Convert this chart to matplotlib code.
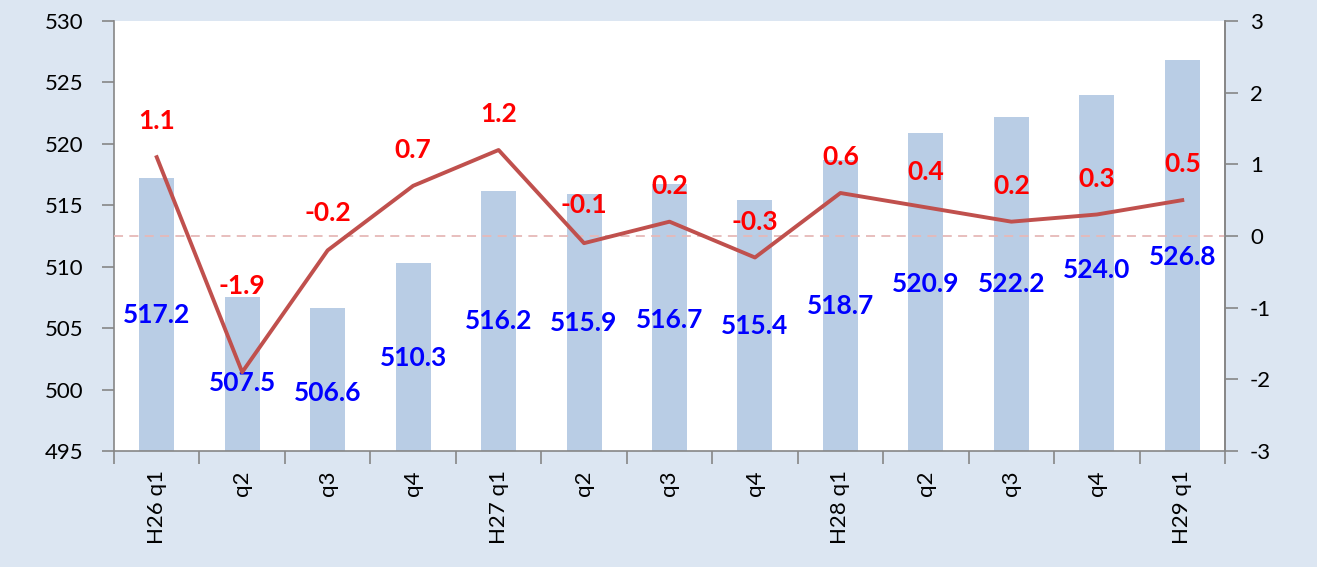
import matplotlib
matplotlib.use("Agg")
import matplotlib.pyplot as plt
import numpy as np

categories = ["H26 q1", "q2", "q3", "q4", "H27 q1", "q2", "q3", "q4",
              "H28 q1", "q2", "q3", "q4", "H29 q1"]
bar_values = [517.2, 507.5, 506.6, 510.3, 516.2, 515.9, 516.7, 515.4,
              518.7, 520.9, 522.2, 524.0, 526.8]
line_values = [1.1, -1.9, -0.2, 0.7, 1.2, -0.1, 0.2, -0.3, 0.6, 0.4, 0.2, 0.3, 0.5]
# label anchor heights (left-axis units for bar labels, right-axis units for line labels)
bar_label_y = [506.1, 500.5, 499.7, 502.6, 505.6, 505.4, 505.7, 505.2,
               506.8, 508.6, 508.6, 509.7, 510.8]
line_label_y = [1.6, -0.7, 0.32, 1.2, 1.7, 0.43, 0.7, 0.2, 1.1, 0.9, 0.7, 0.8, 1.0]

plt.rcParams['font.family'] = ['Lato', 'DejaVu Sans']
plt.rcParams['axes.unicode_minus'] = False

fig = plt.figure(figsize=(13.17, 5.67), dpi=100)
fig.patch.set_facecolor('#dce6f2')
ax = fig.add_axes([114/1317, 1 - 451/567, (1225-114)/1317, (451-21)/567])
ax.set_facecolor('white')
x = np.arange(len(categories))
ax.bar(x, bar_values, width=0.41, color='#b9cde5', zorder=1)
ax.set_ylim(495, 530)
ax.set_xlim(-0.5, len(categories) - 0.5)
ax.set_yticks(np.arange(495, 531, 5))
ax.tick_params(axis='y', labelsize=16, direction='out', length=9, width=1.2, color='#868686', pad=13)
ax.set_xticks(x)
ax.set_xticklabels(categories, rotation=90, fontsize=16)
ax.tick_params(axis='x', length=0, pad=14)
ax.set_xticks(np.arange(-0.5, len(categories), 1), minor=True)
ax.tick_params(axis='x', which='minor', length=9, width=1.2, color='#868686', direction='out')
ax.spines['top'].set_visible(False)
for s in ['left', 'bottom', 'right']:
    ax.spines[s].set_color('#868686')
    ax.spines[s].set_linewidth(1.2)

for xi, v, ly in zip(x, bar_values, bar_label_y):
    ax.text(xi, ly, f"{v:.1f}", ha='center', va='center', color='#0000ff',
            fontsize=19, fontweight='bold', zorder=5)

ax2 = ax.twinx()
ax2.set_ylim(-3, 3)
ax2.set_yticks(np.arange(-3, 4, 1))
ax2.tick_params(axis='y', labelsize=16, direction='out', length=9, width=1.2, color='#868686', pad=9)
for s in ['top', 'left', 'bottom']:
    ax2.spines[s].set_visible(False)
ax2.spines['right'].set_color('#868686')
ax2.spines['right'].set_linewidth(1.2)
ax2.axhline(0, color='#e6b9b8', linestyle=(0, (5, 3.5)), linewidth=1.3, zorder=1)
ax2.plot(x, line_values, color='#c0504d', linewidth=2.8, zorder=3)
for xi, v, ly in zip(x, line_values, line_label_y):
    ax2.text(xi, ly, f"{v:.1f}", ha='center', va='center', color='#ff0000',
             fontsize=19, fontweight='bold', zorder=5)

fig.savefig("out.png", dpi=100, facecolor=fig.get_facecolor())
